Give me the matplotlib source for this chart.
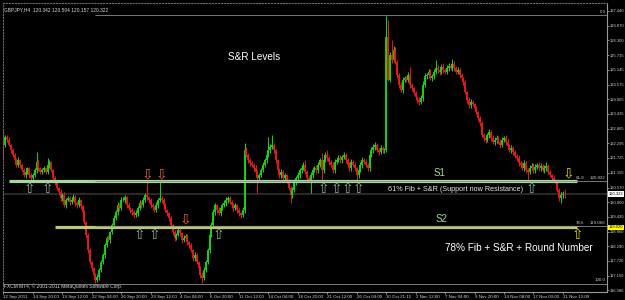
import numpy as np
import matplotlib.pyplot as plt

symbol_info = 'GBPJPY,H4  120.342 120.504 120.157 120.322'
copyright_info = 'FXCM MT4, \u00a9 2001-2011 MetaQuotes Software Corp.'

# H4 candles (open of each bar = close of the one before)
first_open = 122.61
closes = [
    122.23, 122.54, 122.42, 122.23, 122.03, 121.84, 121.64, 121.45, 121.64, 121.45, 121.25, 121.06, 121.18, 121.33, 121.06, 120.94,
    121.06, 121.25, 121.57, 121.33, 121.18, 121.25, 121.33, 121.18, 121.45, 121.57, 121.25, 120.94, 120.75, 120.55, 120.40, 120.16,
    120.28, 119.89, 120.09, 120.16, 120.01, 120.09, 120.20, 119.97, 119.89, 120.09, 119.85, 119.62, 119.23, 118.73, 118.14, 117.67,
    117.44, 117.17, 116.97, 117.09, 117.36, 117.67, 117.95, 118.33, 118.61, 118.53, 118.84, 119.11, 119.39, 119.62, 119.89, 119.77,
    120.09, 120.09, 120.20, 119.89, 119.77, 119.70, 119.62, 119.50, 119.58, 119.77, 119.97, 119.89, 120.09, 120.28, 120.20, 120.09,
    119.89, 119.81, 119.70, 119.89, 120.09, 120.16, 120.09, 119.89, 119.70, 119.58, 119.39, 119.11, 118.84, 118.61, 118.73, 118.92,
    118.80, 118.53, 118.61, 118.69, 118.45, 118.33, 118.14, 117.83, 117.95, 117.67, 117.44, 117.17, 117.05, 117.36, 117.67, 118.14,
    118.73, 119.11, 119.62, 119.89, 119.70, 119.58, 119.77, 119.89, 119.97, 120.09, 120.16, 120.01, 119.89, 119.77, 119.89, 119.70,
    119.58, 119.50, 119.70, 122.03, 121.84, 121.64, 121.53, 121.45, 121.33, 121.18, 120.94, 121.06, 121.25, 121.45, 121.64, 121.84,
    122.03, 122.15, 122.23, 122.03, 121.64, 121.25, 121.06, 121.18, 120.94, 121.06, 120.86, 120.55, 120.28, 120.48, 120.79, 120.94,
    121.06, 121.25, 121.33, 121.45, 121.18, 120.94, 120.86, 121.06, 121.25, 121.33, 121.25, 121.45, 121.64, 121.25, 121.64, 121.84,
    121.72, 121.57, 121.45, 121.25, 121.57, 121.64, 121.72, 121.64, 121.76, 121.84, 121.64, 121.45, 121.33, 121.57, 121.45, 121.33,
    121.06, 121.25, 121.45, 121.64, 121.57, 121.45, 121.33, 121.84, 122.03, 122.15, 122.23, 122.03, 121.95, 122.11, 122.03, 122.03,
    126.43, 124.76, 125.73, 125.53, 125.92, 125.46, 124.95, 124.56, 124.37, 124.76, 124.83, 124.76, 124.95, 124.56, 124.44, 124.25,
    124.09, 123.98, 123.90, 124.05, 124.56, 124.91, 124.95, 125.07, 124.83, 124.91, 125.07, 125.22, 125.14, 125.07, 125.26, 125.14,
    125.07, 125.22, 125.30, 125.22, 125.38, 125.22, 125.07, 125.14, 124.95, 124.83, 124.68, 124.29, 123.98, 123.78, 123.90, 123.82,
    123.67, 123.51, 123.28, 123.08, 122.61, 122.50, 122.42, 122.61, 122.73, 122.50, 122.34, 122.42, 122.50, 122.34, 122.23, 122.42,
    122.50, 122.34, 122.19, 122.03, 122.11, 121.95, 121.80, 121.72, 121.53, 121.45, 121.33, 121.53, 121.25, 121.18, 121.33, 121.41,
    121.25, 121.37, 121.45, 121.33, 121.41, 121.25, 121.33, 121.41, 121.18, 121.06, 120.94, 120.86, 120.79, 120.48, 120.16, 120.28,
    120.34, 120.32,
]
# wick lengths in pips above / below the body
upper_pips = [
    20, 8, 6, 10, 5, 8, 6, 10, 12, 6, 5, 8, 10, 6, 5, 8,
    6, 10, 38, 8, 6, 10, 8, 6, 27, 8, 5, 6, 8, 5, 6, 10,
    8, 12, 6, 8, 10, 6, 12, 8, 6, 10, 5, 6, 8, 5, 6, 8,
    5, 6, 8, 12, 10, 8, 6, 10, 8, 12, 6, 8, 10, 6, 12, 8,
    10, 12, 8, 6, 10, 5, 8, 6, 10, 8, 12, 6, 10, 8, 55, 6,
    8, 10, 6, 12, 8, 67, 10, 6, 8, 5, 6, 8, 5, 10, 8, 6,
    8, 6, 10, 8, 6, 5, 8, 6, 10, 6, 5, 8, 10, 12, 8, 10,
    8, 12, 10, 8, 6, 10, 12, 8, 10, 12, 8, 10, 6, 8, 10, 6,
    8, 6, 10, 27, 12, 8, 10, 6, 8, 10, 6, 8, 10, 12, 10, 8,
    51, 10, 38, 8, 6, 5, 8, 10, 6, 8, 5, 6, 8, 10, 12, 8,
    10, 8, 12, 10, 19, 6, 8, 10, 12, 8, 10, 12, 10, 27, 12, 10,
    19, 8, 6, 10, 12, 8, 10, 12, 8, 10, 6, 8, 10, 12, 8, 10,
    6, 8, 10, 12, 8, 10, 6, 10, 12, 10, 12, 8, 10, 12, 8, 10,
    82, 66, 12, 58, 15, 12, 8, 6, 10, 12, 10, 8, 12, 31, 8, 6,
    8, 6, 10, 12, 15, 10, 8, 12, 10, 8, 12, 31, 10, 12, 10, 15,
    10, 12, 10, 12, 19, 10, 8, 12, 10, 8, 6, 8, 5, 10, 12, 8,
    6, 8, 5, 6, 8, 10, 12, 10, 12, 8, 10, 12, 10, 8, 12, 10,
    8, 10, 12, 8, 10, 6, 8, 6, 10, 8, 12, 10, 8, 10, 12, 10,
    12, 10, 8, 12, 10, 8, 12, 15, 8, 6, 5, 8, 6, 5, 8, 10,
    10, 16,
]
lower_pips = [
    50, 10, 8, 6, 10, 8, 12, 6, 8, 10, 8, 6, 10, 8, 12, 6,
    8, 6, 10, 12, 8, 10, 6, 8, 10, 12, 8, 10, 6, 8, 10, 12,
    10, 8, 12, 6, 10, 8, 6, 12, 10, 8, 12, 10, 8, 12, 10, 8,
    10, 12, 11, 8, 10, 6, 8, 10, 6, 8, 10, 8, 6, 8, 10, 12,
    8, 6, 10, 12, 8, 10, 12, 8, 6, 10, 8, 12, 6, 8, 10, 12,
    10, 12, 8, 6, 10, 8, 12, 10, 8, 12, 10, 8, 12, 10, 8, 6,
    10, 12, 8, 10, 12, 10, 8, 12, 10, 8, 12, 10, 19, 8, 6, 8,
    10, 8, 6, 10, 12, 8, 10, 6, 8, 10, 12, 8, 10, 12, 8, 10,
    12, 10, 8, 10, 8, 10, 12, 8, 10, 12, 58, 10, 8, 6, 8, 10,
    8, 10, 8, 12, 10, 8, 12, 10, 8, 12, 10, 8, 31, 10, 8, 10,
    8, 10, 12, 8, 10, 12, 8, 50, 10, 8, 12, 10, 8, 39, 10, 8,
    10, 12, 8, 10, 12, 10, 8, 10, 12, 8, 10, 8, 12, 10, 8, 10,
    20, 10, 8, 12, 10, 8, 12, 10, 8, 10, 12, 8, 10, 8, 12, 10,
    8, 6, 10, 12, 8, 10, 12, 10, 8, 12, 10, 8, 10, 12, 10, 8,
    10, 12, 10, 8, 10, 8, 12, 10, 8, 10, 12, 8, 10, 12, 8, 10,
    8, 10, 12, 8, 10, 12, 10, 8, 10, 12, 10, 8, 10, 12, 10, 8,
    10, 8, 12, 10, 8, 12, 10, 8, 12, 10, 8, 12, 10, 8, 12, 10,
    8, 10, 12, 8, 10, 12, 8, 10, 12, 10, 8, 10, 12, 39, 10, 8,
    10, 12, 8, 10, 12, 8, 10, 12, 10, 8, 10, 8, 6, 10, 12, 19,
    10, 16,
]

date_labels = ['12 Sep 2011', '14 Sep 20:00', '19 Sep 12:00', '22 Sep 04:00', '26 Sep 20:00',
               '29 Sep 12:00', '4 Oct 04:00', '6 Oct 20:00', '11 Oct 12:00', '14 Oct 04:00',
               '18 Oct 20:00', '21 Oct 12:00', '26 Oct 04:00', '30 Oct 21:15', '2 Nov 12:00',
               '7 Nov 04:00', '9 Nov 20:00', '14 Nov 08:00', '17 Nov 00:00', '21 Nov 12:00']
bars_per_label = 16
price_ticks = [127.440, 126.870, 126.300, 125.715, 125.145, 124.575, 124.005, 123.435, 122.865, 122.295,
               121.725, 121.155, 120.570, 120.000, 119.430, 118.860, 118.290, 117.720, 117.150, 116.580]

fib_names = ['0.0', '61.8', '78.6', '100.0']
fib_prices = [127.28, 120.822, 119.066, 116.83]
fib_start = 50
bid_price = 120.322
s1_price, s1_from, s1_to = 120.83, 3, 311.5
s2_price, s2_from, s2_to = 119.02, 28, 311.5

s1_support_bars = [14, 24, 174, 181, 187, 193, 287]
s1_resist_bars = [78, 86]
s2_support_bars = [74, 82, 117]
s2_resist_bars = [99]
mark_down_bar, mark_up_bar = 307, 312

closes = np.array(closes)
opens = np.concatenate([[first_open], closes[:-1]])
highs = np.maximum(opens, closes) + np.array(upper_pips) / 100
lows = np.minimum(opens, closes) - np.array(lower_pips) / 100
x = np.arange(len(closes))
bull = closes >= opens
colors = np.where(bull, '#14d814', '#e81a1a')

small = 'Liberation Sans'

fig = plt.figure(figsize=(6.25, 3), dpi=100, facecolor='black')
ax = fig.add_axes([3 / 625, 8 / 300, 604 / 625, 289 / 300])
ax.set_facecolor('black')
ax.set_xlim(-0.27, 328)
ax.set_ylim(116.51, 127.75)

ax.axhline(bid_price, color='#2e2e2e', lw=1.3, zorder=1)
ax.vlines(x, lows, highs, colors=colors, lw=0.7, zorder=2)
ax.vlines(x, np.minimum(opens, closes), np.maximum(opens, closes), colors=colors, lw=1.35, zorder=2)

# support bands and fibonacci levels
ax.hlines(s1_price, s1_from, s1_to, color='#a6d69a', lw=2.3, zorder=3)
ax.hlines(s2_price, s2_from, s2_to, color='#bcc878', lw=2.3, zorder=3)
for name, p in zip(fib_names, fib_prices):
    start = -1 if name == '100.0' else fib_start
    ax.hlines(p, start, 328, color='#8c8c8c', lw=0.7, alpha=0.85, zorder=4)
    if name in ('0.0', '100.0'):
        ax.text(327.2, p + 0.06, name, fontsize=3.2, color='#c8c8c8', ha='right', va='bottom', family=small)
    else:
        ax.text(311, p + 0.06, name, fontsize=3.2, color='#c8c8c8', ha='left', va='bottom', family=small)
        ax.text(327.2, p + 0.06, '%.3f' % p, fontsize=3.2, color='#c8c8c8', ha='right', va='bottom',
                family=small)

arrow_kw = dict(ha='center', va='center', fontsize=10, family='DejaVu Sans', zorder=5)
for b in s1_support_bars:
    ax.text(b, s1_price - 0.33, '\u21e7', color='#93ad9c', **arrow_kw)
for b in s1_resist_bars:
    ax.text(b, s1_price + 0.26, '\u21e9', color='#e8603c', **arrow_kw)
for b in s2_support_bars:
    ax.text(b, s2_price - 0.3, '\u21e7', color='#93ad9c', **arrow_kw)
for b in s2_resist_bars:
    ax.text(b, s2_price + 0.3, '\u21e9', color='#e8603c', **arrow_kw)
ax.text(mark_down_bar, s1_price + 0.3, '\u21e9', color='#d8d800', **arrow_kw)
ax.text(mark_up_bar, s2_price - 0.3, '\u21e7', color='#d8d800', **arrow_kw)

font = 'Liberation Sans'
ax.text(136, 125.65, 'S&R Levels', fontsize=7.2, color='white', ha='center', va='center', family=font)
ax.text(237, 121.14, 'S1', fontsize=7, color='#a6d69a', ha='center', va='center', family=font)
ax.text(209, 120.51, '61% Fib + S&R (Support now Resistance)', fontsize=5.2, color='#e8e8e8',
        ha='left', va='center', family=font)
ax.text(238, 119.35, 'S2', fontsize=7, color='#a6d69a', ha='center', va='center', family=font)
ax.text(240, 118.22, '78% Fib + S&R + Round Number', fontsize=7.2, color='white',
        ha='left', va='center', family=font)
ax.text(0.002, 0.985, symbol_info, transform=ax.transAxes, fontsize=3.5, color='#d8d8d8', va='top',
        family=small)
ax.text(0.002, 0.012, copyright_info, transform=ax.transAxes, fontsize=3.5, color='#d8d8d8', va='bottom',
        family=small)

# price boxes on the axis
yt = ax.get_yaxis_transform()
ax.text(1.003, bid_price, '%.3f' % bid_price, transform=yt, fontsize=3.0, color='black', va='center',
        family=small, bbox=dict(facecolor='white', edgecolor='none', pad=0.4), clip_on=False, zorder=6)
ax.text(1.003, s2_price, '%.3f' % s2_price, transform=yt, fontsize=3.0, color='black', va='center',
        family=small, bbox=dict(facecolor='#ffff00', edgecolor='none', pad=0.4), clip_on=False, zorder=6)

ax.yaxis.tick_right()
ax.set_yticks(price_ticks)
ax.set_yticklabels(['%.3f' % p for p in price_ticks], family=small)
ax.set_xticks(np.arange(len(date_labels)) * bars_per_label)
ax.set_xticklabels(date_labels, family=small)
for lab in ax.get_xticklabels():
    lab.set_ha('left')
ax.tick_params(colors='#a0a0a0', labelcolor='#d0d0d0', length=1.5, width=0.6, pad=0.8)
ax.tick_params(axis='y', labelsize=3.0)
ax.tick_params(axis='x', labelsize=3.15)
for side in ['right', 'bottom']:
    ax.spines[side].set_color('#9a9a9a')
    ax.spines[side].set_linewidth(0.8)
for side in ['top', 'left']:
    ax.spines[side].set_color('#6a6a6a')
    ax.spines[side].set_linestyle(':')
    ax.spines[side].set_linewidth(0.8)

fig.savefig('out.png', dpi=100, facecolor='black')
